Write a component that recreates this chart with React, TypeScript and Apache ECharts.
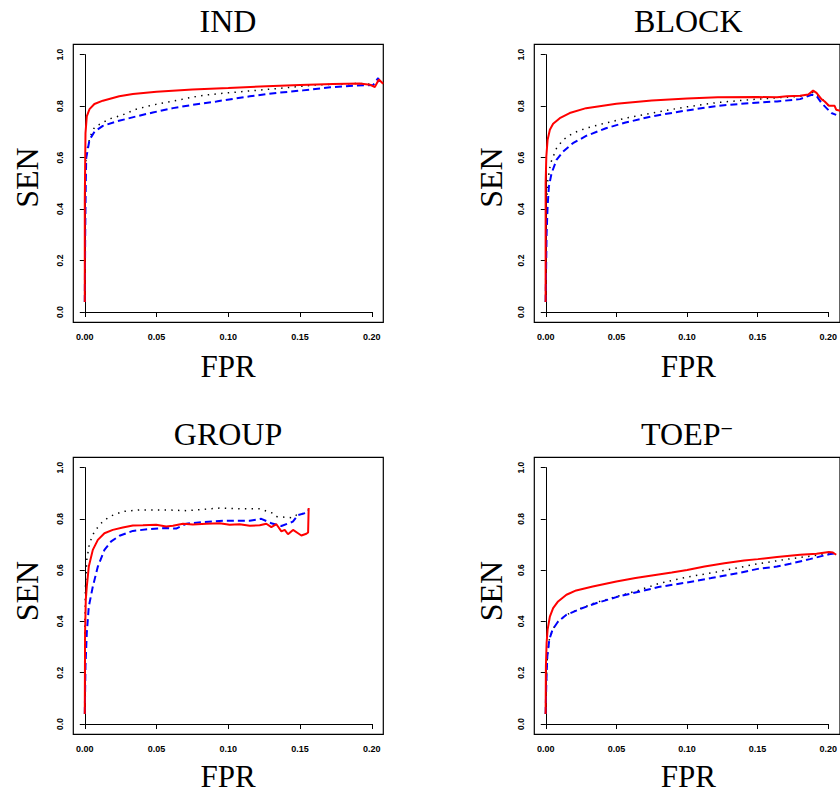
import React, { useEffect, useRef } from "react";
import * as echarts from "echarts";

// ---------- data (FPR, SEN) ----------
const xTicks = [0, 0.05, 0.1, 0.15, 0.2];
const yTicks = [0, 0.2, 0.4, 0.6, 0.8, 1.0];
const panelTitles = ["IND", "BLOCK", "GROUP", "TOEP"];

const indRed = [[0,0.039],[0,0.435],[0.0005,0.695],[0.0014,0.76],[0.0033,0.788],[0.0067,0.808],[0.0126,0.821],[0.024,0.838],[0.0335,0.847],[0.05,0.856],[0.075,0.864],[0.1,0.87],[0.1265,0.877],[0.15,0.882],[0.173,0.886],[0.1916,0.888],[0.1986,0.883],[0.2021,0.874],[0.2049,0.903],[0.2079,0.887]];
const indDot = [[0,0.039],[0.0002,0.4],[0.0005,0.55],[0.001,0.619],[0.0038,0.682],[0.0068,0.718],[0.0126,0.736],[0.0172,0.75],[0.0265,0.766],[0.0359,0.788],[0.0451,0.801],[0.0544,0.812],[0.0638,0.822],[0.0754,0.835],[0.0847,0.843],[0.0987,0.851],[0.109,0.856],[0.138,0.87],[0.161,0.882],[0.18,0.886],[0.192,0.888],[0.2,0.884]];
const indBlue = [[0,0.039],[0.0003,0.3],[0.0007,0.5],[0.001,0.598],[0.0033,0.669],[0.0068,0.701],[0.0126,0.723],[0.0219,0.74],[0.0359,0.76],[0.0474,0.775],[0.0614,0.792],[0.0754,0.805],[0.0917,0.818],[0.1056,0.83],[0.115,0.838],[0.1335,0.851],[0.152,0.861],[0.171,0.873],[0.189,0.88],[0.201,0.882],[0.2044,0.909],[0.2055,0.885]];

const blockRed = [[0,0.039],[0,0.5],[0.0005,0.604],[0.0014,0.669],[0.003,0.708],[0.0053,0.731],[0.01,0.753],[0.017,0.773],[0.0286,0.792],[0.05,0.809],[0.075,0.822],[0.1,0.829],[0.1216,0.834],[0.15,0.835],[0.1635,0.834],[0.1705,0.838],[0.1798,0.84],[0.1856,0.845],[0.189,0.86],[0.1914,0.851],[0.1949,0.827],[0.1972,0.818],[0.2002,0.801],[0.2042,0.801],[0.2053,0.786],[0.209,0.78]];
const blockDot = [[0,0.039],[0.0003,0.35],[0.0014,0.506],[0.0035,0.578],[0.0077,0.636],[0.0123,0.669],[0.0193,0.695],[0.0286,0.714],[0.0402,0.731],[0.0565,0.753],[0.075,0.773],[0.0984,0.796],[0.1216,0.814],[0.145,0.825],[0.168,0.834],[0.1867,0.84],[0.189,0.855],[0.1949,0.83],[0.2002,0.8]];
const blockBlue = [[0,0.039],[0.0007,0.305],[0.0014,0.409],[0.0023,0.487],[0.0042,0.539],[0.0077,0.591],[0.0123,0.623],[0.0193,0.656],[0.0286,0.684],[0.0426,0.714],[0.0565,0.736],[0.075,0.76],[0.0984,0.782],[0.1216,0.801],[0.145,0.812],[0.1635,0.818],[0.1798,0.827],[0.188,0.844],[0.1914,0.84],[0.1949,0.812],[0.2019,0.773],[0.2053,0.766]];

const groupRed = [[0,0.039],[0.0002,0.355],[0.0007,0.484],[0.0014,0.536],[0.0028,0.614],[0.0056,0.679],[0.0091,0.718],[0.0137,0.744],[0.0195,0.757],[0.0265,0.766],[0.0335,0.774],[0.0405,0.775],[0.0498,0.777],[0.0567,0.77],[0.0614,0.773],[0.0684,0.781],[0.0753,0.778],[0.0847,0.781],[0.094,0.783],[0.1009,0.777],[0.1079,0.779],[0.1149,0.773],[0.1219,0.775],[0.1265,0.781],[0.13,0.768],[0.1335,0.779],[0.137,0.751],[0.1393,0.757],[0.1416,0.74],[0.1451,0.757],[0.1486,0.744],[0.1509,0.735],[0.1544,0.742],[0.1556,0.747],[0.156,0.842]];
const groupDot = [[0,0.039],[0,0.355],[0.0005,0.536],[0.0014,0.64],[0.0033,0.705],[0.0067,0.751],[0.0114,0.783],[0.0172,0.809],[0.0265,0.829],[0.0381,0.835],[0.0567,0.835],[0.0707,0.832],[0.0847,0.838],[0.094,0.842],[0.1079,0.839],[0.1219,0.839],[0.131,0.822],[0.1335,0.809],[0.145,0.804],[0.1475,0.815],[0.1545,0.824]];
const groupBlue = [[0,0.039],[0.0005,0.225],[0.0014,0.355],[0.0028,0.458],[0.0056,0.536],[0.0091,0.614],[0.0137,0.679],[0.0184,0.712],[0.0242,0.734],[0.0335,0.753],[0.0451,0.76],[0.0567,0.764],[0.0637,0.762],[0.0707,0.781],[0.0777,0.785],[0.0963,0.793],[0.1149,0.793],[0.123,0.8],[0.13,0.783],[0.137,0.772],[0.145,0.789],[0.1486,0.815],[0.1545,0.824],[0.1556,0.835]];

const toepRed = [[0,0.039],[0.0002,0.225],[0.0007,0.316],[0.0014,0.368],[0.003,0.419],[0.0053,0.452],[0.0088,0.478],[0.0147,0.504],[0.0216,0.521],[0.0333,0.536],[0.05,0.556],[0.0635,0.569],[0.0751,0.579],[0.0891,0.591],[0.1,0.601],[0.1123,0.614],[0.1263,0.627],[0.1402,0.638],[0.15,0.643],[0.1635,0.651],[0.1798,0.66],[0.1914,0.664],[0.2002,0.671],[0.203,0.669],[0.2053,0.66]];
const toepDot = [[0,0.039],[0.0005,0.16],[0.0012,0.264],[0.0026,0.329],[0.0049,0.368],[0.0088,0.4],[0.0147,0.426],[0.024,0.449],[0.0356,0.474],[0.05,0.497],[0.065,0.52],[0.08,0.548],[0.1,0.573],[0.12,0.592],[0.15,0.625],[0.17,0.642],[0.19,0.657],[0.2002,0.668]];
const toepBlue = [[0,0.039],[0.0005,0.16],[0.0012,0.264],[0.0026,0.329],[0.0049,0.368],[0.0088,0.4],[0.0147,0.426],[0.024,0.448],[0.0356,0.471],[0.05,0.495],[0.0635,0.513],[0.0798,0.534],[0.1,0.552],[0.117,0.569],[0.1356,0.588],[0.15,0.605],[0.1635,0.614],[0.1728,0.625],[0.1867,0.643],[0.2002,0.662],[0.2053,0.666]];

const panelSeries = [
  [indDot, indBlue, indRed],
  [blockDot, blockBlue, blockRed],
  [groupDot, groupBlue, groupRed],
  [toepDot, toepBlue, toepRed],
];

const SERIF = '"Liberation Serif", "Times New Roman", serif';
const SANS = '"Liberation Sans", Arial, sans-serif';

export default function App() {
  const ref = useRef<HTMLDivElement>(null);
  useEffect(() => {
    if (!ref.current) return;
    const chart = echarts.init(ref.current, undefined, { renderer: "svg" });
    const boxes = [
      { L: 73.3, T: 44.3, W: 310, H: 278 },
      { L: 534.3, T: 44.3, W: 310, H: 278 },
      { L: 73.3, T: 457.3, W: 310, H: 277 },
      { L: 534.3, T: 457.3, W: 310, H: 277 },
    ];
    const XMIN = -0.008, XMAX = 0.208, YMIN = -0.04, YMAX = 1.04;
    const grid: any[] = [];
    const xAxis: any[] = [];
    const yAxis: any[] = [];
    const series: any[] = [];
    boxes.forEach((b, i) => {
      const xOff = (b.W * (0 - XMIN)) / (XMAX - XMIN);
      const xW = (b.W * (xTicks[xTicks.length - 1] - xTicks[0])) / (XMAX - XMIN);
      const yOff = (b.H * (YMAX - 1)) / (YMAX - YMIN);
      const yH = (b.H * (yTicks[yTicks.length - 1] - yTicks[0])) / (YMAX - YMIN);
      grid.push({ left: b.L, top: b.T, width: b.W, height: b.H, show: true, borderColor: "#000", borderWidth: 1.2, backgroundColor: "transparent" });
      grid.push({ left: b.L + xOff, top: b.T + yOff, width: xW, height: yH, show: false });
      xAxis.push({ type: "value", gridIndex: 2 * i, min: XMIN, max: XMAX, show: false });
      yAxis.push({ type: "value", gridIndex: 2 * i, min: YMIN, max: YMAX, show: false });
      xAxis.push({
        type: "value", gridIndex: 2 * i + 1, min: 0, max: 0.2, interval: 0.05,
        position: "bottom", offset: b.H - yOff - yH,
        axisLine: { show: true, lineStyle: { color: "#000", width: 1 } },
        axisTick: { show: true, length: 5, lineStyle: { color: "#000", width: 1 } },
        splitLine: { show: false },
        axisLabel: { color: "#000", fontSize: 9, fontWeight: "bold", fontFamily: SANS, margin: 10, formatter: (v: number) => v.toFixed(2) },
      });
      yAxis.push({
        type: "value", gridIndex: 2 * i + 1, min: 0, max: 1, interval: 0.2,
        position: "left", offset: xOff,
        axisLine: { show: true, lineStyle: { color: "#000", width: 1 } },
        axisTick: { show: true, length: 5, lineStyle: { color: "#000", width: 1 } },
        splitLine: { show: false },
        axisLabel: { color: "#000", fontSize: 8.5, fontWeight: "bold", fontFamily: SANS, margin: 9, rotate: 90, formatter: (v: number) => v.toFixed(1) },
      });
      const [dot, blue, red] = panelSeries[i];
      const common = { type: "line", xAxisIndex: 2 * i, yAxisIndex: 2 * i, showSymbol: false, symbol: "none", silent: true, clip: true };
      series.push({ ...common, name: "dot" + i, data: dot, lineStyle: { color: "#000", width: 1.5, type: [1.4, 5.3], cap: "butt" } });
      series.push({ ...common, name: "blue" + i, data: blue, lineStyle: { color: "#0000ff", width: 2, type: [7, 4] } });
      series.push({ ...common, name: "red" + i, data: red, lineStyle: { color: "#ff0000", width: 2 } });
    });

    const txt = (text: string, x: number, y: number, rot = 0, size = 32) => ({
      type: "text", x, y, rotation: rot,
      style: { text, fill: "#000", fontSize: size, fontFamily: SERIF, lineHeight: size, align: "center", verticalAlign: "middle" },
    });
    const graphic: any[] = [
      txt(panelTitles[0], 228, 21),
      txt(panelTitles[1], 688.3, 21),
      txt(panelTitles[2], 228, 433.5),
      {
        type: "text", x: 687, y: 433.5,
        style: {
          text: "{a|" + panelTitles[3] + "}{b|−}", align: "center", verticalAlign: "middle", fill: "#000",
          rich: {
            a: { fontSize: 32, fontFamily: SERIF, fill: "#000" },
            b: { fontSize: 22, fontFamily: SERIF, fill: "#000", verticalAlign: "top" },
          },
        },
      },
      txt("SEN", 26.7, 177.5, Math.PI / 2),
      txt("SEN", 490.5, 177.5, Math.PI / 2),
      txt("SEN", 26.7, 591, Math.PI / 2),
      txt("SEN", 490.5, 591, Math.PI / 2),
      txt("FPR", 228, 366.5, 0, 31),
      txt("FPR", 688.3, 366.5, 0, 31),
      txt("FPR", 228, 776.5, 0, 31),
      txt("FPR", 688.3, 776.5, 0, 31),
    ];

    chart.setOption({ animation: false, backgroundColor: "#fff", grid, xAxis, yAxis, series, graphic });
    return () => chart.dispose();
  }, []);
  return <div ref={ref} style={{ position: "fixed", left: 0, top: 0, width: 840, height: 793 }} />;
}
